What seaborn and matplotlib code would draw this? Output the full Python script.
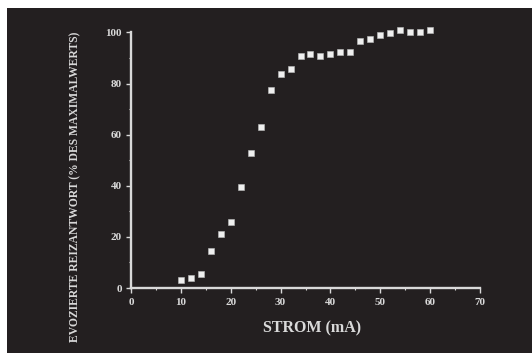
import matplotlib
matplotlib.use("Agg")
import matplotlib.pyplot as plt
from matplotlib.patches import Rectangle
from matplotlib.ticker import MultipleLocator
import numpy as np
import pandas as pd
import seaborn as sns

# Stimulus current (mA) and evoked response (% of maximum)
strom_ma = [10, 12, 14, 16, 18, 20, 22, 24, 26, 28, 30, 32, 34,
            36, 38, 40, 42, 44, 46, 48, 50, 52, 54, 56, 58, 60]
antwort_pct = [3.0, 3.8, 5.5, 14.3, 21.0, 26.0, 39.4, 52.7, 62.9, 77.3,
               83.8, 85.7, 90.8, 91.5, 90.9, 91.5, 92.4, 92.4, 96.8, 97.4,
               98.9, 99.9, 100.8, 100.0, 100.0, 101.0]

x_ticks = [0, 10, 20, 30, 40, 50, 60, 70]
y_ticks = [0, 20, 40, 60, 80, 100]

df = pd.DataFrame({"strom": strom_ma, "antwort": antwort_pct})

sns.set_theme(style="dark")
plt.rcParams["font.family"] = ["Liberation Serif", "DejaVu Serif"]

panel = "#231f20"
ink = "#d9d9d9"

fig = plt.figure(figsize=(5.32, 3.53), dpi=100, facecolor="white")
# dark panel behind the chart
fig.patches.append(Rectangle((7 / 532, 0), 1 - 7 / 532, 1 - 8 / 353,
                             transform=fig.transFigure, facecolor=panel,
                             edgecolor="none", zorder=-10))

ax = fig.add_axes([131 / 532, 1 - 288 / 353, (480 - 131) / 532, (288 - 32.5) / 353])
ax.set_facecolor("none")
ax.patch.set_alpha(0)

sns.scatterplot(data=df, x="strom", y="antwort", ax=ax, marker="s", s=20,
                color="#efefef", edgecolor="#bdbdbd", linewidth=0.4,
                clip_on=False, zorder=3)

ax.set_xlim(0, 70)
ax.set_ylim(0, 100)
ax.set_xticks(x_ticks)
ax.set_yticks(y_ticks)
ax.xaxis.set_minor_locator(MultipleLocator(5))
ax.yaxis.set_minor_locator(MultipleLocator(10))
ax.grid(False)

for side in ("top", "right"):
    ax.spines[side].set_visible(False)
for side in ("left", "bottom"):
    ax.spines[side].set_visible(True)
    ax.spines[side].set_color(ink)
    ax.spines[side].set_linewidth(1.7)

ax.tick_params(axis="both", which="major", direction="out", length=3.5,
               width=1.0, color=ink, labelcolor=ink, labelsize=8,
               bottom=True, left=True)
ax.tick_params(axis="both", which="minor", direction="out", length=1.5,
               width=0.8, color=ink, bottom=True, left=True)
ax.tick_params(axis="x", which="major", pad=3.5)
ax.tick_params(axis="y", which="major", pad=3)
for lbl in ax.get_xticklabels() + ax.get_yticklabels():
    lbl.set_fontweight("bold")

ax.set_xlabel("")
ax.set_ylabel("")
fig.text(312 / 532, 1 - 328 / 353, "STROM (mA)", ha="center", va="center",
         color=ink, fontsize=11.5, fontweight="bold")
fig.text(75 / 532, 1 - 187 / 353, "EVOZIERTE REIZANTWORT (% DES MAXIMALWERTS)",
         rotation=90, ha="center", va="center", color=ink, fontsize=8.4,
         fontweight="bold")

fig.savefig("out.png", dpi=100, facecolor="white")
